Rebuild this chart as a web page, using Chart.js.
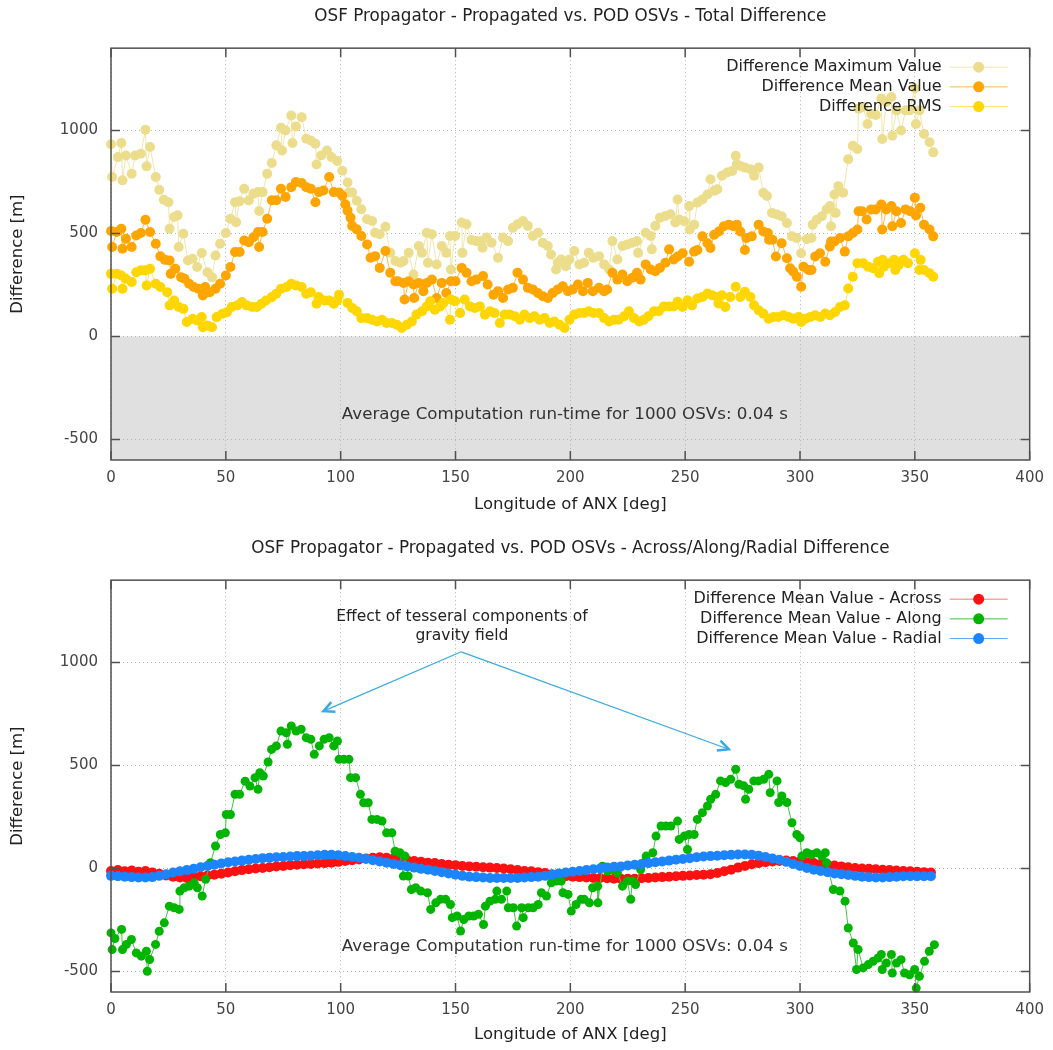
<!DOCTYPE html>
<html>
<head>
<meta charset="utf-8">
<script src="https://cdn.jsdelivr.net/npm/chart.js@4.4.1/dist/chart.umd.min.js"></script>
<style>
  body { margin: 0; background: #fff; }
  .box { position: absolute; left: 0; width: 1053px; height: 525px; }
</style>
</head>
<body>
<div class="box" style="top:0"><canvas id="total" width="1053" height="525"></canvas></div>
<div class="box" style="top:525px"><canvas id="components" width="1053" height="525"></canvas></div>
<script>
// [longitude of ANX, difference in m]
const maxValue = [[0,933],[0.5,774],[3,871],[4.5,939],[5,758],[6.5,879],[9,790],[10.5,879],[13,887],[15,1004],[15.5,826],[17,920],[19.5,774],[21,712],[23,664],[25,652],[25.5,523],[27.5,580],[29,588],[29.5,434],[31.5,499],[33.5,369],[35.5,377],[37.5,337],[39.5,405],[42,312],[44,288],[45.5,393],[47.5,450],[50,502],[52,571],[54,652],[54.5,555],[56,657],[58,717],[60,660],[62,693],[64,701],[64.5,609],[66,701],[68,790],[70,842],[72,928],[74,1013],[74.5,903],[76,1000],[78.5,1073],[79,939],[80.5,1020],[83,1065],[85,960],[87,952],[89,936],[89.5,835],[91.5,879],[94,903],[96,871],[98.5,852],
  [100.7,805],[103,748],[103.5,699],[105,699],[107,659],[109,618],[111.5,569],[113.7,561],[115,504],[117,496],[119.5,533],[121.6,406],[123.8,366],[126,358],[127.4,366],[129.6,406],[131.7,301],[134,439],[135.4,406],[137.5,504],[138,358],[139.7,496],[141.8,350],[144,439],[146,406],[147.6,488],[148,325],[149.8,488],[152.7,553],[153,406],[154.8,545],[157,468],[159,463],[161.3,463],[161.8,431],[163.5,480],[165.7,455],[168.5,382],[170.7,480],[172.9,463],[175,528],[177,545],[179.4,561],[181.5,537],[183.7,488],[185.9,504],[188,455],[190.2,439],[191.6,398],[193.8,325],[194.5,358],[196,374],[198,341],[199.6,374],[201.7,415],[203.9,350],[206,358],[208,406],[210,382],[212.5,390],[214.7,350],[216.9,325],[218.3,463],[220.5,374],[222.7,439],[224.8,447],[227,455],[229,463],[229.5,406],[232.8,504],[235,488],[235.5,423],[237,537],[239,577],[241.4,585],[243.6,593],[245.7,553],
  [246.7,665],[247.4,568],[249.6,559],[251.7,633],[252,519],[253.9,543],[255.3,650],[257.5,665],[259.7,689],[261,763],[262.6,707],[264,715],[266,780],[268.3,796],[270.5,804],[272,877],[272.5,836],[274,828],[276,820],[278.4,812],[280,780],[282,820],[284,698],[285.6,682],[287.8,600],[290,592],[292,584],[294.3,551],[296.5,486],[298.6,478],[300.5,404],[303,473],[305,478],[305.5,543],[307.3,567],[309.5,584],[311.6,617],[313,633],[313.5,535],[315,689],[315.5,600],[316.7,730],[318.8,698],[321,861],[323,926],[325,910],[325.5,1106],[327.5,1114],[329.4,1032],[331,1081],[333,1075],[335.4,1155],[335.8,959],[337.6,1139],[339.8,1163],[340.2,975],[342,1098],[344,1000],[346,1098],[347.7,1098],[350,1204],[350.5,1032],[352,1098],[354,983],[356.4,943],[358,894]];

const meanValue = [[0,512],[0.5,434],[2.5,507],[4.5,523],[5,426],[6.5,474],[9,434],[11,490],[13,502],[15,567],[17,507],[19.5,450],[21.5,389],[23.5,372],[25.5,369],[26,304],[28,329],[30.5,288],[32,280],[34,256],[36,240],[38,232],[40,199],[41,240],[43,215],[45.5,232],[47.5,256],[50,296],[52,337],[54,410],[56,410],[58,466],[60,458],[62,482],[64,507],[64.5,434],[66,507],[68,572],[70,661],[72,661],[74,717],[76,677],[78.5,725],[80.5,750],[83,745],[85,725],[87,717],[89,652],[90.5,701],[92.5,709],[95,774],[97,701],
  [99.3,699],[100.7,683],[102,642],[103,611],[104.3,577],[105,537],[107,520],[109,488],[111.5,447],[113,382],[115,390],[117,333],[119.5,415],[121.6,309],[123.8,268],[125,268],[127.4,260],[127.8,179],[129.6,268],[131.7,252],[132,187],[134,260],[136,220],[137.5,260],[139.7,276],[141.8,187],[144,260],[146,211],[148,268],[150,268],[152.7,333],[154.8,309],[157,268],[159,276],[162,293],[164,252],[166.5,203],[168.5,220],[170.7,187],[172.9,228],[175,236],[177,309],[179.4,276],[181.5,236],[183.7,228],[185.9,211],[188,195],[190.2,187],[192.3,211],[194.5,228],[196.7,244],[199,220],[201,228],[203.3,252],[205.5,220],[207.6,260],[209.8,220],[212.5,236],[214.7,220],[216,228],[218.3,309],[220.5,276],[222.7,301],[224.8,268],[227,285],[229,309],[230.6,276],[232.8,350],[235,325],[237,317],[239,333],[241.4,358],[243,423],[245,374],
  [246.7,388],[248.9,404],[251.7,363],[253.9,412],[255.3,420],[257.5,486],[259.7,453],[261,430],[262.6,494],[264.7,510],[266.8,535],[269,543],[271,535],[272.5,543],[274,510],[276,420],[276.7,478],[279,486],[282,543],[284,510],[286,502],[286.5,470],[288,470],[289.5,388],[292,453],[294.3,380],[295.7,331],[297,315],[298.6,290],[300.5,241],[301.5,339],[303.7,323],[305,323],[306.6,388],[308.7,404],[311,363],[313,437],[313.5,461],[315,461],[317.4,478],[319.5,412],[321,486],[323,502],[325,519],[325.5,608],[327,608],[329,568],[331,617],[333,617],[335.4,641],[335.8,519],[337.6,617],[339.8,633],[340.2,535],[342,608],[344,551],[346,617],[348,608],[350,674],[350.5,587],[352.4,625],[354,543],[356.4,519],[358,486]];

const rmsValue = [[0,304],[0.5,232],[2.5,304],[4.5,296],[5,232],[6.5,280],[9,264],[11,312],[13,321],[15,321],[15.5,248],[17,329],[19.5,256],[21.5,240],[24.5,215],[25.5,151],[27.5,175],[29.5,143],[31.5,134],[33,70],[35.5,86],[37.5,78],[39.5,94],[40,45],[42,53],[44,45],[46,94],[48.5,110],[50.5,118],[52.5,143],[55,151],[57,167],[59,151],[61.5,143],[63.5,143],[65.5,159],[67.5,175],[70,191],[72,207],[74,232],[76.5,240],[78.5,256],[80.5,248],[83,240],[85,207],[87,215],[89.5,159],[90.5,191],[93,175],[95,175],[97,159],[98.5,175],
  [99.3,203],[103,163],[105,138],[107,122],[109,89],[111.5,89],[113.7,81],[115.8,73],[118,81],[120,65],[122.3,65],[124.5,57],[126.6,41],[128.8,57],[131,73],[133,106],[135.4,122],[137.5,146],[139,171],[141,130],[143.3,146],[144.7,163],[147.6,81],[148,179],[149.8,171],[152,114],[154,179],[156.3,146],[158.4,138],[160.6,146],[162.8,106],[165,122],[167,114],[169.3,65],[171.4,106],[173.6,106],[175.8,98],[178,81],[180,106],[182.3,89],[184.4,98],[186.6,81],[188.8,89],[191,65],[193,73],[195.3,57],[197.5,41],[199.6,81],[201.7,106],[204,114],[206,114],[208,122],[210,114],[212.5,114],[214.7,89],[216.9,73],[219,81],[221,81],[223.4,98],[225.5,122],[227.7,89],[230,73],[232,81],[234,98],[236.4,122],[238.5,122],[240.7,146],[243,146],[245,146],
  [246.7,168],[248.9,143],[251,176],[253,151],[255.3,184],[257.5,192],[259.7,208],[261.7,200],[264,192],[264.5,160],[266,200],[267.5,143],[269.6,192],[272,241],[274,192],[276,217],[278.4,192],[280,151],[282,127],[284,111],[286.3,86],[288.5,95],[290.6,95],[292.8,103],[295,95],[297,86],[299.3,95],[300.5,70],[302.3,86],[304.5,95],[306.6,103],[308.8,95],[311,111],[313,103],[315.3,119],[317.4,143],[319.5,151],[321,233],[323,290],[325,356],[327.5,356],[329.7,339],[331.8,331],[334,363],[334.5,307],[336,372],[336.5,339],[338.7,356],[341,372],[341.5,323],[343,347],[345,372],[347,356],[350,404],[352,323],[352.5,372],[354,323],[356.4,307],[358,290]];

const alongValue = [[0,-313],[0.5,-394],[1.7,-340],[4.6,-296],[5,-394],[6.7,-369],[8.9,-345],[11,-410],[13.2,-426],[15.4,-402],[15.8,-499],[16.8,-442],[19.4,-369],[21,-305],[23.2,-264],[25.4,-183],[27.5,-191],[29.7,-199],[30,-110],[31.9,-94],[34,-86],[36.2,-70],[37.6,-94],[39.7,-134],[41.2,-53],[43.3,28],[45.5,109],[47.6,165],[49.8,173],[50.2,262],[52,262],[54,360],[56,360],[58.4,424],[60.5,400],[62.7,441],[64,384],[64.8,465],[66.3,449],[68.4,517],[69.9,578],[72,595],[74,667],[76.3,659],[76.8,603],[78.5,692],[80.6,667],[82.8,676],[85,635],[87,627],[88.5,554],[90.7,595],[92.8,627],[95,635],[97,595],[98.6,619],[99.3,530],[101.4,530],[103.6,530],[104.3,441],[106.5,441],[108.6,360],[110,319],[112,319],[113.6,238],[115.8,238],[118,230],[120,173],[122.3,173],[123.7,84],[125.8,76],[127.3,-37],[128,60],[129.4,-37],[130.8,-102],
  [132.7,-94],[134.9,-110],[137.8,-118],[139.2,-199],[141.4,-167],[143.5,-150],[145.7,-150],[147.8,-175],[148.6,-239],[150.7,-231],[152.2,-304],[153.6,-248],[155.8,-231],[157.9,-231],[160,-223],[162.2,-272],[163,-183],[165,-159],[167.3,-150],[168,-110],[170,-150],[172.3,-110],[173,-191],[175.2,-191],[176.6,-280],[178.8,-191],[179.5,-239],[181.7,-191],[183.8,-191],[186,-175],[187.4,-118],[189.6,-134],[191.7,-70],[193.9,-61],[196,-61],[196.8,-118],[199,-126],[200.4,-207],[202.5,-175],[204.7,-150],[206,-150],[208.3,-167],[209.7,-94],[211.9,-86],[212,-167],[214,11],[216.2,-13],[218.3,-5],[220.5,-21],[222.7,-86],[224.8,-61],[226.3,-150],[227,-61],[228.4,-78],[230.6,-5],[232.7,36],
  [233,60],[235.9,76],[237.3,157],[239.5,206],[241.6,206],[243.8,206],[246.7,230],[247.4,141],[249.6,157],[251,92],[251.7,165],[253.9,165],[255.3,238],[257.5,271],[259.7,303],[261.1,336],[263.3,360],[265.4,425],[267.6,417],[269.8,433],[272,482],[273.4,409],[275.5,401],[276.3,336],[277.7,384],[279.9,425],[282,425],[284.2,433],[286.4,457],[287,368],[290,425],[290.7,320],[292.1,352],[294.3,320],[296.5,222],[298.6,165],[300,149],[300.8,60],[303,76],[305,68],[307.3,76],[309.5,60],[311,76],[311.5,28],[314.5,-102],[317.4,-110],[319.6,-159],[321,-289],[323.2,-362],[324.6,-491],[325.3,-394],[327.5,-483],[329.7,-467],[331.8,-451],[334,-435],[335.4,-418],[335.8,-491],[337.6,-459],[339.8,-418],[340.2,-508],[342,-459],[344,-443],[345.5,-508],[347.7,-516],[349.9,-491],[350.6,-581],[352,-524],[354.2,-451],[356.3,-402],[358.5,-370]];

// across / radial are dense, read every 3 deg
const compLon = [0,3,6,9,12,15,18,21,24,27,30,33,36,39,42,45,48,51,54,57,60,63,66,69,72,75,78,81,84,87,90,93,96,99,102,105,108,111,114,117,120,123,126,129,132,135,138,141,144,147,150,153,156,159,162,165,168,171,174,177,180,183,186,189,192,195,198,201,204,207,210,213,216,219,222,225,228,231,234,237,240,243,246,249,252,255,258,261,264,267,270,273,276,279,282,285,288,291,294,297,300,303,306,309,312,315,318,321,324,327,330,333,336,339,342,345,348,351,354,357];
const acrossValue = [-12,-8,-14,-10,-16,-12,-20,-26,-34,-40,-44,-46,-42,-38,-34,-30,-26,-20,-14,-8,-4,0,2,6,10,12,16,18,20,22,24,26,28,32,36,40,44,48,52,54,52,48,44,40,36,32,28,26,22,18,16,12,10,8,6,4,2,0,-4,-8,-12,-14,-18,-22,-28,-34,-38,-40,-42,-44,-46,-46,-48,-50,-50,-50,-50,-48,-46,-44,-42,-40,-38,-36,-34,-32,-30,-28,-22,-14,-6,4,12,20,26,30,34,36,38,36,34,30,26,22,18,14,10,6,2,0,-2,-4,-6,-8,-10,-12,-14,-16,-18,-20];
const radialValue = [-36,-38,-40,-42,-44,-44,-42,-36,-28,-20,-14,-8,-2,6,12,18,24,30,34,38,42,46,50,52,54,56,58,60,60,62,64,66,66,64,60,56,52,46,40,34,28,22,16,10,4,-2,-6,-12,-18,-24,-30,-36,-40,-42,-44,-46,-46,-46,-46,-46,-44,-42,-40,-36,-30,-24,-20,-16,-12,-8,-4,0,4,8,10,14,18,22,26,30,34,38,42,46,50,54,58,60,62,64,66,68,68,66,62,56,48,42,32,22,12,2,-6,-12,-18,-24,-28,-32,-36,-40,-42,-44,-44,-42,-40,-38,-38,-38,-38,-38];

const xTicks = [0, 50, 100, 150, 200, 250, 300, 350, 400];
const yTicks = [-500, 0, 500, 1000];
const runTimeNote = 'Average Computation run-time for 1000 OSVs: 0.04 s';

const FONT = "'DejaVu Sans', Verdana, sans-serif";
Chart.defaults.font.family = FONT;

function series(label, pts, dot, line, order, r) {
  return {
    label: label,
    data: pts.map(p => ({ x: p[0], y: p[1] })),
    borderColor: line,
    backgroundColor: dot,
    pointBackgroundColor: dot,
    pointBorderWidth: 0,
    pointRadius: r,
    borderWidth: 1,
    tension: 0,
    order: order,
    clip: 10
  };
}

// gnuplot-like frame, inward ticks, inside legend, notes
const gnuFrame = {
  id: 'gnuFrame',
  beforeDraw(chart, args, opts) {
    if (!opts.shadeBelowZero) return;
    const a = chart.chartArea, y0 = chart.scales.y.getPixelForValue(0);
    const ctx = chart.ctx;
    ctx.save();
    ctx.fillStyle = '#e0e0e0';
    ctx.fillRect(a.left, y0, a.right - a.left, a.bottom - y0);
    ctx.restore();
  },
  afterDatasetsDraw(chart, args, opts) {
    const ctx = chart.ctx, a = chart.chartArea;
    const xs = chart.scales.x, ys = chart.scales.y;
    ctx.save();
    ctx.strokeStyle = '#505050';
    ctx.lineWidth = 1.5;
    ctx.strokeRect(a.left, a.top, a.right - a.left, a.bottom - a.top);
    ctx.beginPath();
    const t = 9;
    xTicks.forEach(v => {
      const px = xs.getPixelForValue(v);
      ctx.moveTo(px, a.bottom); ctx.lineTo(px, a.bottom - t);
      ctx.moveTo(px, a.top); ctx.lineTo(px, a.top + t);
    });
    yTicks.forEach(v => {
      const py = ys.getPixelForValue(v);
      ctx.moveTo(a.left, py); ctx.lineTo(a.left + t, py);
      ctx.moveTo(a.right, py); ctx.lineTo(a.right - t, py);
    });
    ctx.stroke();

    // note
    ctx.font = '16.7px ' + FONT;
    ctx.fillStyle = '#333';
    ctx.textAlign = 'left';
    ctx.textBaseline = 'middle';
    ctx.fillText(runTimeNote, xs.getPixelForValue(100.5), ys.getPixelForValue(-380));

    // legend, right aligned text with sample on the right
    ctx.font = '16px ' + FONT;
    ctx.textAlign = 'right';
    ctx.fillStyle = '#222';
    chart.data.datasets.forEach((ds, i) => {
      const y = a.top + 19 + i * 19.7;
      ctx.fillText(ds.label, a.right - 88, y);
      ctx.strokeStyle = ds.borderColor;
      ctx.lineWidth = 1;
      ctx.beginPath();
      ctx.moveTo(a.right - 80, y); ctx.lineTo(a.right - 22, y);
      ctx.stroke();
      ctx.fillStyle = ds.pointBackgroundColor;
      ctx.beginPath();
      ctx.arc(a.right - 51, y, 5.5, 0, Math.PI * 2);
      ctx.fill();
      ctx.fillStyle = '#222';
    });

    if (opts.annotation) {
      const an = opts.annotation;
      ctx.font = '15.5px ' + FONT;
      ctx.textAlign = 'center';
      ctx.fillStyle = '#222';
      an.lines.forEach(l => ctx.fillText(l.text, xs.getPixelForValue(l.x), ys.getPixelForValue(l.y)));
      ctx.strokeStyle = '#3aa9df';
      const x0 = xs.getPixelForValue(an.from[0]), y0 = ys.getPixelForValue(an.from[1]);
      an.to.forEach(p => {
        const x1 = xs.getPixelForValue(p[0]), y1 = ys.getPixelForValue(p[1]);
        ctx.lineWidth = 1.2;
        ctx.beginPath(); ctx.moveTo(x0, y0); ctx.lineTo(x1, y1); ctx.stroke();
        const ang = Math.atan2(y1 - y0, x1 - x0), L = 12, w = 0.45;
        ctx.lineWidth = 2.5;
        ctx.beginPath();
        ctx.moveTo(x1 - L * Math.cos(ang - w), y1 - L * Math.sin(ang - w));
        ctx.lineTo(x1, y1);
        ctx.lineTo(x1 - L * Math.cos(ang + w), y1 - L * Math.sin(ang + w));
        ctx.stroke();
      });
    }
    ctx.restore();
  }
};

function options(title, titlePad, xTitlePad, xHeight, extra) {
  return {
    responsive: false,
    animation: false,
    layout: { padding: { left: 0, right: 18, top: 0, bottom: 0 } },
    plugins: {
      legend: { display: false },
      tooltip: { enabled: false },
      title: { display: true, fullSize: false, text: title, color: '#222', font: { size: 16.8, weight: 'normal' }, padding: titlePad },
      gnuFrame: extra
    },
    scales: {
      x: {
        type: 'linear', min: 0, max: 400,
        afterBuildTicks: axis => { axis.ticks = xTicks.map(v => ({ value: v })); },
        afterFit: s => { s.height = xHeight; },
        ticks: { color: '#444', font: { size: 15 }, padding: 9, maxRotation: 0, callback: v => String(v) },
        grid: { color: '#b4b4b4', lineWidth: 1, drawTicks: false },
        border: { display: false, dash: [1, 3] },
        title: { display: true, text: 'Longitude of ANX [deg]', color: '#222', font: { size: 16.5 }, padding: { top: 0, bottom: xTitlePad } }
      },
      y: {
        type: 'linear', min: -600, max: 1400,
        afterBuildTicks: axis => { axis.ticks = yTicks.map(v => ({ value: v })); },
        afterFit: s => { s.width = 111; },
        ticks: { color: '#444', font: { size: 15 }, padding: 13, callback: v => String(v) },
        grid: { color: '#b4b4b4', lineWidth: 1, drawTicks: false },
        border: { display: false, dash: [1, 3] },
        title: { display: true, text: 'Difference [m]', color: '#222', font: { size: 16.5 }, padding: { top: 8, bottom: 0 } }
      }
    }
  };
}

new Chart(document.getElementById('total'), {
  type: 'line',
  data: {
    datasets: [
      series('Difference Maximum Value', maxValue, '#ecdd8d', '#f2e6aa', 3, 5),
      series('Difference Mean Value', meanValue, '#ffa500', '#ffb84d', 2, 5),
      series('Difference RMS', rmsValue, '#ffd600', '#ffe26a', 1, 5)
    ]
  },
  options: options('OSF Propagator - Propagated vs. POD OSVs - Total Difference',
    { top: 7, bottom: 21 }, 10, 65, { shadeBelowZero: true }),
  plugins: [gnuFrame]
});

new Chart(document.getElementById('components'), {
  type: 'line',
  data: {
    datasets: [
      series('Difference Mean Value - Across', compLon.map((x, i) => [x, acrossValue[i]]), '#ff1111', '#ff7777', 3, 5),
      series('Difference Mean Value - Along', alongValue, '#00b400', '#40c440', 2, 4.5),
      series('Difference Mean Value - Radial', compLon.map((x, i) => [x, radialValue[i]]), '#1c84ff', '#5aa5ff', 1, 5)
    ]
  },
  options: options('OSF Propagator - Propagated vs. POD OSVs - Across/Along/Radial Difference',
    { top: 14, bottom: 21 }, 5, 58, {
      shadeBelowZero: false,
      annotation: {
        lines: [
          { text: 'Effect of tesseral components of', x: 152.8, y: 1222 },
          { text: 'gravity field', x: 152.8, y: 1129 }
        ],
        from: [152.5, 1052],
        to: [[92.5, 764], [269, 579]]
      }
    }),
  plugins: [gnuFrame]
});
</script>
</body>
</html>
